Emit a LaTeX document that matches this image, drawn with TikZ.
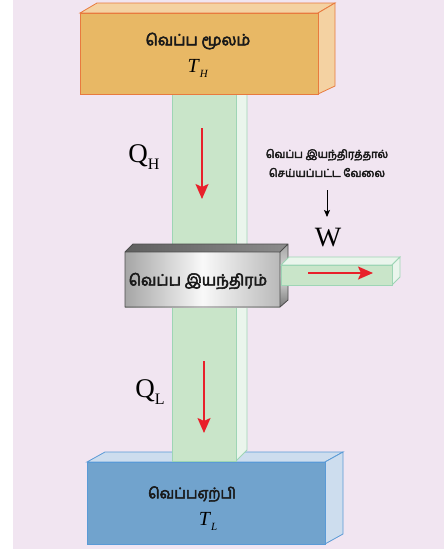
\documentclass[tikz,border=0pt]{standalone}
\usepackage{fontspec}
\setmainfont{Liberation Serif}
\newfontfamily\tamil[Script=Tamil,FakeBold=3.5]{Hind Madurai}
\usetikzlibrary{arrows.meta}
\definecolor{bgc}{HTML}{F1E5F1}
\definecolor{orfront}{HTML}{E8B865}
\definecolor{orlight}{HTML}{F4D2A2}
\definecolor{oredge}{HTML}{E87A3E}
\definecolor{grfront}{HTML}{C9E5C9}
\definecolor{grlight}{HTML}{EAF5EC}
\definecolor{gredge}{HTML}{9ED5B5}
\definecolor{blfront}{HTML}{71A3CD}
\definecolor{bllight}{HTML}{CDDDEE}
\definecolor{bledge}{HTML}{5A9AD6}
\definecolor{redarr}{HTML}{E8202A}
\tikzset{
  redflow/.style={draw=redarr, line width=1.8pt, -{Stealth[length=15pt,width=13pt,inset=3pt]}},
  blackflow/.style={draw=black, line width=0.9pt, -{Stealth[length=7pt,width=6pt,inset=1.5pt]}},
  tamlab/.style={inner sep=0pt, align=center, text=black!90},
  serlab/.style={inner sep=0pt},
}
\begin{document}
\begin{tikzpicture}[x=1pt,y=-1pt]
\useasboundingbox (0,0) rectangle (444,552);
\fill[bgc] (13,0) rectangle (444,549);
% cold sink
\filldraw[fill=bllight, draw=bledge, line width=0.8pt] (87,462) -- (105,452) -- (343,452) -- (325,462) -- cycle;
\filldraw[fill=bllight, draw=bledge, line width=0.8pt] (325,462) -- (343,452) -- (343,534) -- (325,544) -- cycle;
\filldraw[fill=blfront, draw=bledge, line width=0.8pt] (87,462) rectangle (325,544);
% column
\filldraw[fill=grlight, draw=gredge, line width=0.8pt] (236,94) -- (247,88) -- (247,450) -- (236,461) -- cycle;
\filldraw[fill=grfront, draw=gredge, line width=0.8pt] (172,94) rectangle (236,461);
% hot source
\filldraw[fill=orlight, draw=oredge, line width=0.8pt] (80,13) -- (97,3) -- (335,3) -- (318,13) -- cycle;
\filldraw[fill=orlight, draw=oredge, line width=0.8pt] (318,13) -- (335,3) -- (335,86) -- (318,94) -- cycle;
\filldraw[fill=orfront, draw=oredge, line width=0.8pt] (80,13) rectangle (318,94);
% engine
\shade[left color=gray!75!black, right color=gray!90] (125,252) -- (133,244) -- (288,244) -- (280,252) -- cycle;
\shade[top color=gray!70, bottom color=gray!95!black, middle color=gray!25] (280,252) -- (288,244) -- (288,300) -- (280,307) -- cycle;
\shade[left color=gray!70, right color=gray!55, middle color=gray!5] (125,252) rectangle (280,307);
\draw[black!70, line width=0.8pt] (125,252) -- (133,244) -- (288,244) -- (288,300) -- (280,307) -- (125,307) -- cycle
  (125,252) -- (280,252) -- (288,244) (280,252) -- (280,307);
% work bar
\filldraw[fill=grlight, draw=gredge, line width=0.8pt] (281,265) -- (289,257) -- (400,257) -- (392,265) -- cycle;
\filldraw[fill=grlight, draw=gredge, line width=0.8pt] (392,265) -- (400,257) -- (400,277) -- (392,285) -- cycle;
\filldraw[fill=grfront, draw=gredge, line width=0.8pt] (281,265) rectangle (392,285);
% arrows
\coordinate (a1s) at (202,128); \coordinate (a1e) at (202,199);
\coordinate (a2s) at (204,361); \coordinate (a2e) at (204,433);
\coordinate (a3s) at (308,273); \coordinate (a3e) at (373,273);
\coordinate (a4s) at (327,190); \coordinate (a4e) at (327,217);
\draw[redflow] (a1s) -- (a1e);
\draw[redflow] (a2s) -- (a2e);
\draw[redflow] (a3s) -- (a3e);
\draw[blackflow] (a4s) -- (a4e);
% labels
\node[tamlab, font=\tamil\fontsize{15.5}{17}\selectfont] (hot) at (198,41) {வெப்ப மூலம்};
\node[serlab, font=\fontsize{20}{20}\selectfont] (th) at (198,68) {\textit{T}\raisebox{-5pt}{\fontsize{11}{11}\selectfont\textit{H}}};
\node[serlab, font=\fontsize{27}{27}\selectfont] (qh) at (144,157) {Q\raisebox{-7pt}{\fontsize{16}{16}\selectfont H}};
\node[tamlab, font=\tamil\fontsize{11}{19}\selectfont] (wlab) at (327,163) {வெப்ப இயந்திரத்தால்\\செய்யப்பட்ட வேலை};
\node[serlab, font=\fontsize{28}{28}\selectfont] (w) at (328,238) {W};
\node[tamlab, font=\tamil\fontsize{15.5}{17}\selectfont] (eng) at (198,281) {வெப்ப இயந்திரம்};
\node[serlab, font=\fontsize{27}{27}\selectfont] (ql) at (150,392) {Q\raisebox{-7pt}{\fontsize{16}{16}\selectfont L}};
\node[tamlab, font=\tamil\fontsize{14.7}{16}\selectfont] (cold) at (192,494) {வெப்பஏற்பி};
\node[serlab, font=\fontsize{20}{20}\selectfont] (tl) at (208,521) {\textit{T}\raisebox{-5pt}{\fontsize{11}{11}\selectfont\textit{L}}};
\end{tikzpicture}
\end{document}
